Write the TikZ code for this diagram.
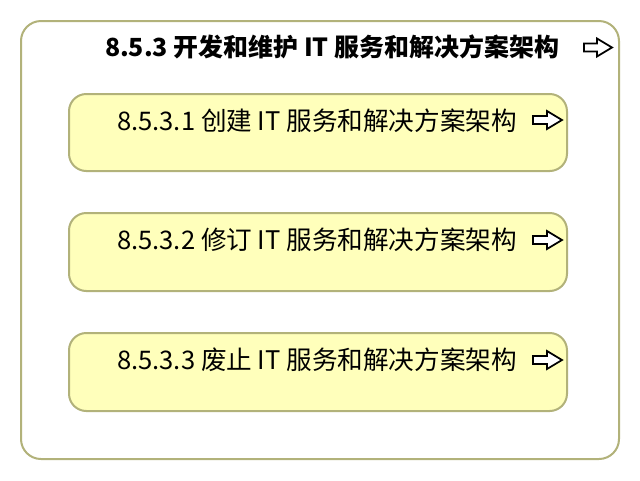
\documentclass[tikz,border=0pt]{standalone}
\usepackage{fontspec}
\setmainfont{Noto Sans CJK SC}
\definecolor{boxline}{RGB}{178,178,122}
\definecolor{boxfill}{RGB}{255,255,187}
\tikzset{every picture/.style={line width=0.75pt},
  outerbox/.style={draw=boxline,fill=white,line width=1.5pt,rounded corners=15pt},
  taskbox/.style={draw=boxline,fill=boxfill,line width=1.5pt,rounded corners=13pt},
  openarrow/.style={draw=black,fill=white,line width=1.3pt,line join=miter}}

\begin{document}
\begin{tikzpicture}[x=0.75pt,y=0.75pt,yscale=-1,xscale=1]
\useasboundingbox (0,0) rectangle (640,480);

%Rounded Rect [id:outer]
\draw  [outerbox] (21,21) rectangle (619,459) ;
%Rounded Rect [id:task1]
\draw  [taskbox] (69,94) rectangle (567,171) ;
%Rounded Rect [id:task2]
\draw  [taskbox] (69,213) rectangle (567,291) ;
%Rounded Rect [id:task3]
\draw  [taskbox] (69,333) rectangle (567,411) ;

%Right Arrow [id:arrow0]
\draw  [openarrow] (584,43.5) -- (597,43.5) -- (597,38.5) -- (612,47.5) -- (597,56.5) -- (597,51.5) -- (584,51.5) -- cycle ;
%Right Arrow [id:arrow1]
\draw  [openarrow] (533,116) -- (547,116) -- (547,111) -- (562,120) -- (547,129) -- (547,124) -- (533,124) -- cycle ;
%Right Arrow [id:arrow2]
\draw  [openarrow] (533,236) -- (547,236) -- (547,231) -- (562,240) -- (547,249) -- (547,244) -- (533,244) -- cycle ;
%Right Arrow [id:arrow3]
\draw  [openarrow] (533,356) -- (547,356) -- (547,351) -- (562,360) -- (547,369) -- (547,364) -- (533,364) -- cycle ;

% Text Node
\draw (332,47) node [inner sep=0.75pt] (title)  {\fontsize{18.7}{22}\selectfont\bfseries 8.5.3 开发和维护 IT 服务和解决方案架构};
% Text Node
\draw (317,121) node [inner sep=0.75pt] (create)  {\fontsize{19.2}{22}\selectfont 8.5.3.1 创建 IT 服务和解决方案架构};
% Text Node
\draw (317,240) node [inner sep=0.75pt] (revise)  {\fontsize{19.2}{22}\selectfont 8.5.3.2 修订 IT 服务和解决方案架构};
% Text Node
\draw (317,360) node [inner sep=0.75pt] (retire)  {\fontsize{19.2}{22}\selectfont 8.5.3.3 废止 IT 服务和解决方案架构};

\end{tikzpicture}
\end{document}
